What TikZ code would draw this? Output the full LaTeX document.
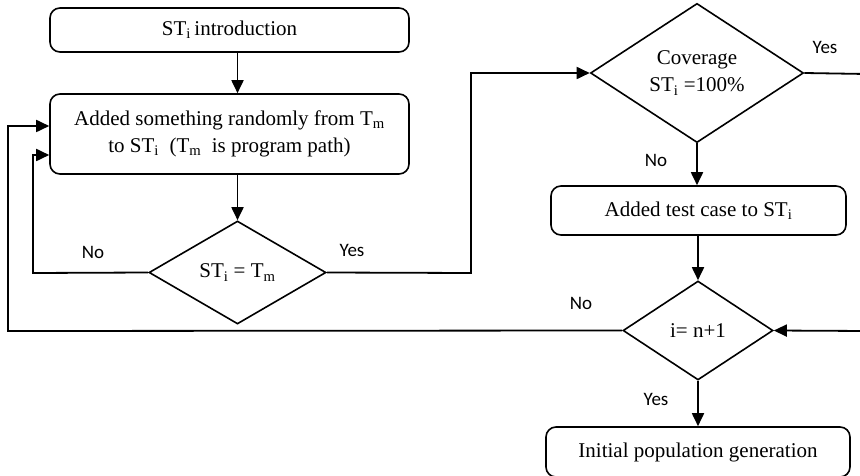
\documentclass[tikz,border=0pt]{standalone}
\usepackage{fontspec}
\setmainfont{Liberation Serif}
\newfontfamily\labfont{Carlito}
\usetikzlibrary{shapes.geometric,arrows.meta}
\tikzset{
  procbox/.style={draw, rounded corners=10pt, line width=1.6pt, inner sep=0pt,
    font=\fontsize{21}{27}\selectfont, align=center},
  decision/.style={draw, diamond, line width=1.6pt, inner sep=0pt,
    font=\fontsize{21}{27}\selectfont, align=center},
  conn/.style={line width=1.8pt},
  arr/.style={conn, -{Triangle[length=13pt,width=12pt]}},
  lab/.style={font=\labfont\fontsize{19}{21}\selectfont, inner sep=0pt}
}
\newcommand{\Sb}[1]{\textsubscript{#1}}
\begin{document}
\begin{tikzpicture}[x=1pt,y=-1pt]
\clip (0,0) rectangle (860,476);
\node[procbox, minimum width=359pt, minimum height=44pt] (b1) at (229.5,30) {ST\Sb{i}\,introduction};
\node[procbox, minimum width=359pt, minimum height=80pt] (b2) at (229.5,134) {Added something randomly from T\Sb{m}\\to ST\Sb{i}\ \ (T\Sb{m}\ \ is program path)};
\node[decision, minimum width=177pt, minimum height=103pt] (d1) at (237.5,272.5) {ST\Sb{i} = T\Sb{m}};
\node[decision, minimum width=213pt, minimum height=130pt] (d2) at (697,73) {Coverage\\ST\Sb{i} =100\%};
\node[procbox, minimum width=295pt, minimum height=49pt] (b3) at (698.5,210.5) {Added test case to ST\Sb{i}};
\node[decision, minimum width=150pt, minimum height=99pt] (d3) at (698,330.5) {i= n+1};
\node[procbox, minimum width=304pt, minimum height=50pt] (b4) at (698,452) {Initial population generation};

\coordinate (l1) at (33,273);
\coordinate (l2) at (8,331);
\coordinate (m1) at (471,273);
\coordinate (r1) at (866,74);
\coordinate (r2) at (866,331);

\draw[arr] (d1 |- b1.south) -- (d1 |- b2.north);
\draw[arr] (d1 |- b2.south) -- (d1.north);
\draw[arr] (d1.west) -- (l1) -- ([yshift=-21pt]l1 |- b2.center) -- ([yshift=-21pt]b2.west);
\draw[arr] (d3.west) -- (l2) -- ([yshift=8pt]l2 |- b2.center) -- ([yshift=8pt]b2.west);
\draw[arr] (d1.east) -- (m1) -- (m1 |- d2.west) -- (d2.west);
\draw[arr] (d2.east) -- (r1) -- (r2) -- (d3.east);
\draw[arr] (d2.south) -- (d2 |- b3.north);
\draw[arr] (d3 |- b3.south) -- (d3.north);
\draw[arr] (d3.south) -- (d3 |- b4.north);

\node[lab] (n1) at (93,252) {No};
\node[lab] (y1) at (352,250) {Yes};
\node[lab] (y2) at (825,47) {Yes};
\node[lab] (n2) at (656,160) {No};
\node[lab] (n3) at (581,303) {No};
\node[lab] (y3) at (656,399) {Yes};
\end{tikzpicture}
\end{document}
